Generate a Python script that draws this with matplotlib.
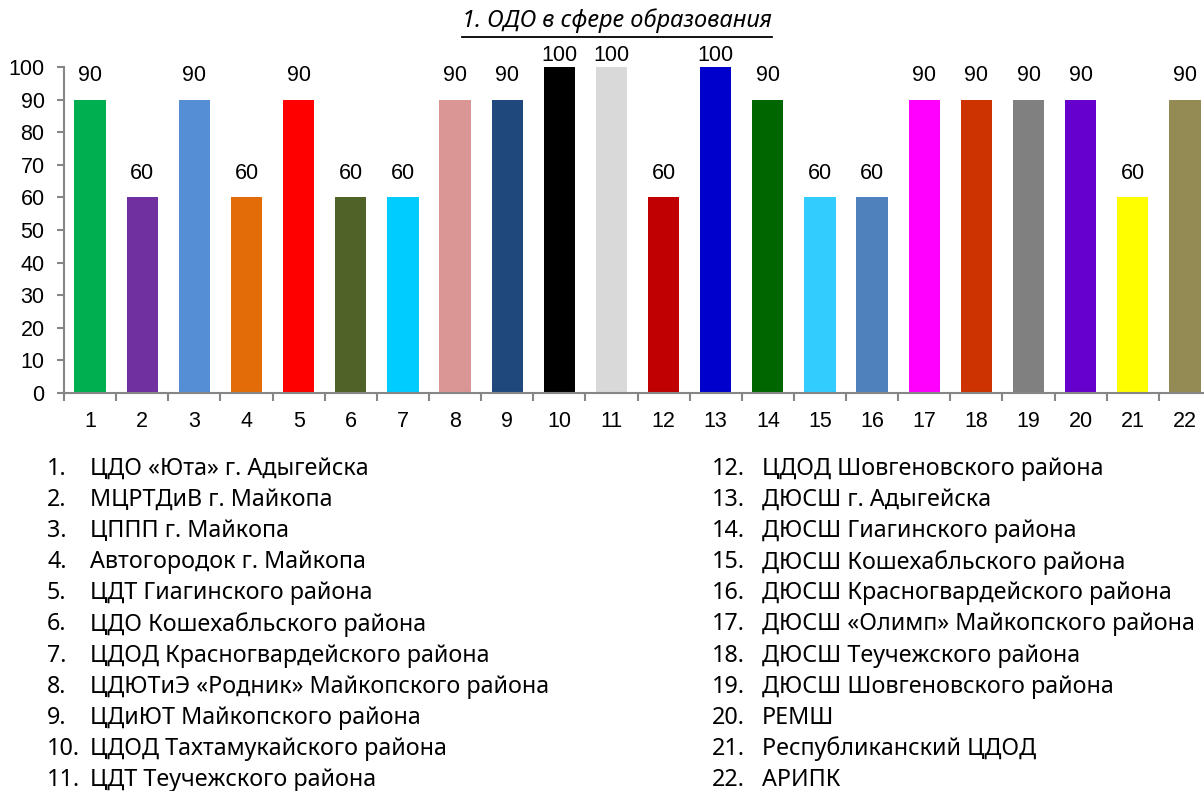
import numpy as np
import matplotlib
matplotlib.use("Agg")
import matplotlib.pyplot as plt
from matplotlib.lines import Line2D

# данные диаграммы
categories = [str(i) for i in range(1, 23)]
values = [90, 60, 90, 60, 90, 60, 60, 90, 90, 100, 100,
          60, 100, 90, 60, 60, 90, 90, 90, 90, 60, 90]
colors = ["#00B050", "#7030A0", "#558ED5", "#E36C09", "#FF0000", "#4F6228",
          "#00CCFF", "#D99694", "#1F497D", "#000000", "#D9D9D9", "#C00000",
          "#0000CC", "#006600", "#33CCFF", "#4F81BD", "#FF00FF", "#CC3300",
          "#808080", "#6600CC", "#FFFF00", "#948A54"]
names = [
    "ЦДО «Юта» г. Адыгейска",
    "МЦРТДиВ г. Майкопа",
    "ЦППП г. Майкопа",
    "Автогородок г. Майкопа",
    "ЦДТ Гиагинского района",
    "ЦДО Кошехабльского района",
    "ЦДОД Красногвардейского района",
    "ЦДЮТиЭ «Родник» Майкопского района",
    "ЦДиЮТ Майкопского района",
    "ЦДОД Тахтамукайского района",
    "ЦДТ Теучежского района",
    "ЦДОД Шовгеновского района",
    "ДЮСШ г. Адыгейска",
    "ДЮСШ Гиагинского района",
    "ДЮСШ Кошехабльского района",
    "ДЮСШ Красногвардейского района",
    "ДЮСШ «Олимп» Майкопского района",
    "ДЮСШ Теучежского района",
    "ДЮСШ Шовгеновского района",
    "РЕМШ",
    "Республиканский ЦДОД",
    "АРИПК",
]
title = "1. ОДО в сфере образования"

# шрифты
num_font = "Liberation Sans"
text_font = ["Noto Sans", "DejaVu Sans"]

W, H = 1204, 791
fig = plt.figure(figsize=(W / 100, H / 100), dpi=100)
ax = fig.add_axes([64 / W, 1 - 393 / H, 1147 / W, 326 / H])

x = np.arange(len(categories))
ax.bar(x, values, width=0.6, color=colors)

# подписи значений (у верхней границы Excel прижимает их вниз)
for xi, v in zip(x, values):
    ax.text(xi, min(v + 7.3, 103.6), str(v), ha="center", va="center",
            fontsize=15.5, family=num_font, clip_on=False)

ax.set_xlim(-0.5, len(categories) - 0.5)
ax.set_ylim(0, 100)
ax.set_yticks(range(0, 101, 10))
ax.set_xticks(x)
ax.set_xticklabels(categories)
ax.set_xticks(np.arange(-0.5, len(categories), 1), minor=True)
for lab in ax.get_xticklabels() + ax.get_yticklabels():
    lab.set_fontsize(15.5)
    lab.set_family(num_font)

ax.tick_params(axis="x", which="major", length=0, pad=13)
ax.tick_params(axis="x", which="minor", length=6, color="#868686", width=1.5)
ax.tick_params(axis="y", length=5, color="#868686", width=1.5, pad=9)
for s in ["top", "right"]:
    ax.spines[s].set_visible(False)
for s in ["left", "bottom"]:
    ax.spines[s].set_color("#868686")
    ax.spines[s].set_linewidth(1.5)

# заголовок с подчёркиванием
t = fig.text(617 / W, 1 - 21 / H, title, ha="center", va="center",
             fontsize=17, style="italic", family=text_font)
fig.canvas.draw()
bb = t.get_window_extent().transformed(fig.transFigure.inverted())
fig.add_artist(Line2D([bb.x0, bb.x1], [1 - 37 / H] * 2, color="black", lw=1.3,
                      transform=fig.transFigure))

# подписи организаций
row_y = 469
step = 31.1
for i, name in enumerate(names):
    if i < 11:
        nx, tx, y = 47, 90, row_y + i * step
    else:
        nx, tx, y = 712, 762, row_y + (i - 11) * step
    fig.text(nx / W, 1 - y / H, f"{i + 1}.", ha="left", va="center",
             fontsize=16.8, family=text_font)
    fig.text(tx / W, 1 - y / H, name, ha="left", va="center",
             fontsize=16.8, family=text_font)

fig.savefig("out.png", dpi=100)
